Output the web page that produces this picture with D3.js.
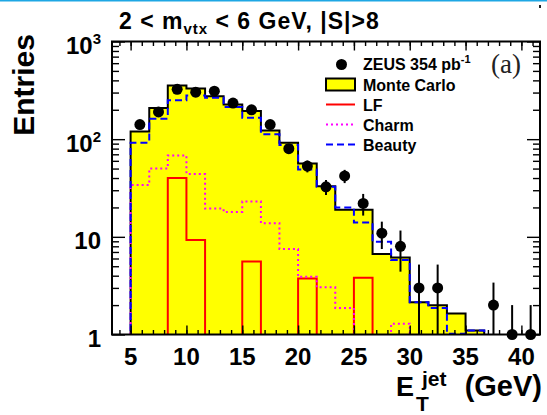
<!DOCTYPE html>
<html>
<head>
<meta charset="utf-8">
<script src="https://cdn.jsdelivr.net/npm/d3@7"></script>
<style>
    body { margin: 0; background: #fff; }
    svg { display: block; font-family: "Liberation Sans", Arial, Helvetica, sans-serif; }
    .axis path { display: none; }
    .axis line { stroke: #000; stroke-width: 1.4px; }
</style>
</head>
<body>
<div id="chart"></div>
<script>
// bin edges of the simulated histograms (GeV)
var binEdges = [5, 6.67, 8.33, 10, 11.67, 13.33, 15, 16.67, 18.33, 20, 21.67,
    23.33, 25, 26.67, 28.33, 30, 31.67, 33.33, 35, 36.67];

var monteCarlo = [120, 209, 355, 330, 275, 226, 194, 123, 92, 56.5, 33,
    18.9, 18.9, 6.66, 6.15, 2.14, 1.99, 1.64, 1.1];
var beauty = [92, 162, 250, 280, 266, 213, 166, 112, 87, 49, 32.5,
    20, 14, 8.9, 5.8, 2.14, 1.87, 1.02, 1.1];
var charm = [34, 50, 68, 44, 19.5, 18, 23, 13.8, 7.5, 3.9, 3.04,
    1.87, 0, 0, 1.29, 0, 0, 0, 0];
var lightFlavour = [0, 0, 40, 9.3, 0, 0, 5.6, 0, 0, 3.75, 0,
    0, 3.8, 0, 0, 0, 0, 0, 0];

// ZEUS data points
var dataEt = [5.83, 7.5, 9.17, 10.83, 12.5, 14.17, 15.83, 17.5, 19.17, 20.83,
    22.5, 24.17, 25.83, 27.5, 29.17, 30.83, 32.5, 37.5, 39.17, 40.83];
var dataEntries = [141, 190, 324, 303, 310, 234, 200, 141, 80, 53,
    32.5, 42, 22, 10.9, 8, 3, 3, 2, 1, 1];
var dataErrUp = [12, 14, 18, 17, 18, 15, 14, 12, 9, 7.3,
    5.7, 6.5, 5.5, 3.4, 3.6, 2.2, 2.2, 1.4, 1, 1];
var dataErrDown = [12, 14, 18, 17, 18, 15, 14, 12, 9, 7.3,
    5.7, 6.5, 5.5, 3.4, 3.6, 2.0, 2.0, 1.0, 0, 0];

var xMajorTicks = [5, 10, 15, 20, 25, 30, 35, 40];
var yMajorTicks = [1, 10, 100, 1000];
var yTickExponents = ["0", "1", "2", "3"];

var width = 547, height = 415;
var margin = { top: 41.5, right: 7, bottom: 80.5, left: 112 };

var svg = d3.select("#chart").append("svg")
    .attr("width", width)
    .attr("height", height);

// thin cyan line along the top of the picture
svg.append("rect").attr("x", 0).attr("y", 0).attr("width", width).attr("height", 1.5)
    .attr("fill", "#1ea7e4");
svg.append("rect").attr("x", 539).attr("y", 5).attr("width", 2).attr("height", 3)
    .attr("fill", "#222");

var x = d3.scaleLinear()
    .domain([10 / 3, 125 / 3])
    .range([margin.left, width - margin.right]);

var y = d3.scaleLog()
    .domain([1, 1000])
    .range([height - margin.bottom, margin.top]);

var yv = function(v) {
    // empty bins fall below the frame and get clipped
    return y(Math.max(v, 0.5));
};

svg.append("clipPath").attr("id", "plot-clip")
    .append("rect")
    .attr("x", x.range()[0]).attr("y", y.range()[1])
    .attr("width", x.range()[1] - x.range()[0])
    .attr("height", y.range()[0] - y.range()[1]);

var plot = svg.append("g").attr("clip-path", "url(#plot-clip)");

var histPoints = function(vals) {
    var pts = [[x(binEdges[0]), yv(0)]];
    vals.forEach(function(v, i) {
        pts.push([x(binEdges[i]), yv(v)]);
        pts.push([x(binEdges[i + 1]), yv(v)]);
    });
    pts.push([x(binEdges[vals.length]), yv(0)]);
    return pts;
};

var line = d3.line();

// Monte Carlo: yellow fill with black outline
plot.append("path")
    .attr("d", line(histPoints(monteCarlo)) + "Z")
    .attr("fill", "#ffff00")
    .attr("stroke", "none");
plot.append("path")
    .attr("d", line(histPoints(monteCarlo)))
    .attr("fill", "none")
    .attr("stroke", "#000")
    .attr("stroke-width", 2);

plot.append("path")
    .attr("d", line(histPoints(lightFlavour)))
    .attr("fill", "none")
    .attr("stroke", "#ff0000")
    .attr("stroke-width", 2);

plot.append("path")
    .attr("d", line(histPoints(charm)))
    .attr("fill", "none")
    .attr("stroke", "#ff00ff")
    .attr("stroke-width", 2)
    .attr("stroke-dasharray", "2,3");

plot.append("path")
    .attr("d", line(histPoints(beauty)))
    .attr("fill", "none")
    .attr("stroke", "#0000ff")
    .attr("stroke-width", 2)
    .attr("stroke-dasharray", "7,4");

// data points with error bars
var points = svg.append("g").selectAll("g")
    .data(dataEt.map(function(e, i) {
        return { e: e, v: dataEntries[i], up: dataErrUp[i], down: dataErrDown[i] };
    }))
    .enter().append("g");

points.append("line")
    .attr("x1", function(d) { return x(d.e); })
    .attr("x2", function(d) { return x(d.e); })
    .attr("y1", function(d) { return Math.min(yv(d.v - d.down), y(1)); })
    .attr("y2", function(d) { return yv(d.v + d.up); })
    .attr("stroke", "#000")
    .attr("stroke-width", 2);

points.append("circle")
    .attr("cx", function(d) { return x(d.e); })
    .attr("cy", function(d) { return yv(d.v); })
    .attr("r", 5.5)
    .attr("fill", "#000");

// axes: ticks point inwards on all four sides
var xMinor = d3.range(4, 42);
var yMinor = [];
[1, 10, 100].forEach(function(dec) {
    d3.range(2, 10).forEach(function(m) { yMinor.push(dec * m); });
});

var bottomY = y.range()[0], topY = y.range()[1];
var leftX = x.range()[0], rightX = x.range()[1];

var addAxis = function(axis, tx, ty) {
    svg.append("g")
        .attr("class", "axis")
        .attr("transform", "translate(" + tx + "," + ty + ")")
        .call(axis)
        .selectAll("text").remove();
};

addAxis(d3.axisBottom(x).tickValues(xMinor).tickSize(-4.5), 0, bottomY);
addAxis(d3.axisBottom(x).tickValues(xMajorTicks).tickSize(-9), 0, bottomY);
addAxis(d3.axisTop(x).tickValues(xMinor).tickSize(-4.5), 0, topY);
addAxis(d3.axisTop(x).tickValues(xMajorTicks).tickSize(-9), 0, topY);
addAxis(d3.axisLeft(y).tickValues(yMinor).tickSize(-7), leftX, 0);
addAxis(d3.axisLeft(y).tickValues(yMajorTicks).tickSize(-13), leftX, 0);
addAxis(d3.axisRight(y).tickValues(yMinor).tickSize(-7), rightX, 0);
addAxis(d3.axisRight(y).tickValues(yMajorTicks).tickSize(-13), rightX, 0);

// frame
svg.append("rect")
    .attr("x", leftX).attr("y", topY)
    .attr("width", rightX - leftX).attr("height", bottomY - topY)
    .attr("fill", "none")
    .attr("stroke", "#000")
    .attr("stroke-width", 2);

// tick labels
svg.append("g").selectAll("text")
    .data(xMajorTicks)
    .enter().append("text")
    .attr("x", function(d) { return x(d); })
    .attr("y", bottomY + 30)
    .attr("text-anchor", "middle")
    .attr("font-size", "24px")
    .attr("font-weight", "bold")
    .text(function(d) { return d; });

var yLabels = svg.append("g").selectAll("text")
    .data(yMajorTicks)
    .enter().append("text")
    .attr("x", 101)
    .attr("y", function(d) { return y(d) + 12.5; })
    .attr("text-anchor", "end")
    .attr("font-size", "24px")
    .attr("font-weight", "bold");

yLabels.each(function(d, i) {
    var t = d3.select(this);
    if (d === 1) {
        t.text("1");
    } else if (d === 10) {
        t.text("10");
    } else {
        t.append("tspan").text("10");
        t.append("tspan").attr("font-size", "15px").attr("dy", -10).text(yTickExponents[i]);
    }
});

// axis titles
svg.append("text")
    .attr("transform", "translate(33.5,85) rotate(-90)")
    .attr("text-anchor", "middle")
    .attr("font-size", "30px")
    .attr("font-weight", "bold")
    .text("Entries");

var xTitle = svg.append("g").attr("font-weight", "bold");
xTitle.append("text").attr("x", 396).attr("y", 396).attr("font-size", "27px").text("E");
xTitle.append("text").attr("x", 416).attr("y", 411).attr("font-size", "21px").text("T");
xTitle.append("text").attr("x", 422).attr("y", 386).attr("font-size", "21px").text("jet");
xTitle.append("text").attr("x", 542).attr("y", 396).attr("text-anchor", "end")
    .attr("font-size", "29px").text("(GeV)");

// title
var title = svg.append("text")
    .attr("x", 119)
    .attr("y", 28.5)
    .attr("font-size", "23px")
    .attr("font-weight", "bold")
    .attr("letter-spacing", "1px");
title.append("tspan").text("2 < m");
title.append("tspan").attr("font-size", "15px").attr("dy", 5).text("vtx");
title.append("tspan").attr("dy", -5).text(" < 6 GeV, |S|>8");

// legend
var legendItems = ["ZEUS", "Monte Carlo", "LF", "Charm", "Beauty"];
var legend = svg.append("g").attr("font-size", "16px").attr("font-weight", "bold");
var rowY = d3.scalePoint().domain(legendItems).range([64.5, 144.5]);

legend.append("circle").attr("cx", 341.5).attr("cy", rowY("ZEUS")).attr("r", 5.5).attr("fill", "#000");
legend.append("rect").attr("x", 326).attr("y", rowY("Monte Carlo") - 6)
    .attr("width", 29).attr("height", 12)
    .attr("fill", "#ffff00").attr("stroke", "#000").attr("stroke-width", 2);
legend.append("line").attr("x1", 326).attr("x2", 355)
    .attr("y1", rowY("LF")).attr("y2", rowY("LF"))
    .attr("stroke", "#ff0000").attr("stroke-width", 2);
legend.append("line").attr("x1", 326).attr("x2", 355)
    .attr("y1", rowY("Charm")).attr("y2", rowY("Charm"))
    .attr("stroke", "#ff00ff").attr("stroke-width", 2).attr("stroke-dasharray", "2,3");
legend.append("line").attr("x1", 326).attr("x2", 355)
    .attr("y1", rowY("Beauty")).attr("y2", rowY("Beauty"))
    .attr("stroke", "#0000ff").attr("stroke-width", 2).attr("stroke-dasharray", "7,4");

var zeusText = legend.append("text").attr("x", 363).attr("y", rowY("ZEUS") + 5.5);
zeusText.append("tspan").text("ZEUS 354 pb");
zeusText.append("tspan").attr("font-size", "11px").attr("dy", -7).text("-1");

legendItems.slice(1).forEach(function(name) {
    legend.append("text").attr("x", 363).attr("y", rowY(name) + 6).text(name);
});

svg.append("text")
    .attr("x", 491)
    .attr("y", 73)
    .attr("font-family", "'Liberation Serif', 'Times New Roman', serif")
    .attr("font-size", "27px")
    .attr("fill", "#222")
    .text("(a)");
</script>
</body>
</html>
